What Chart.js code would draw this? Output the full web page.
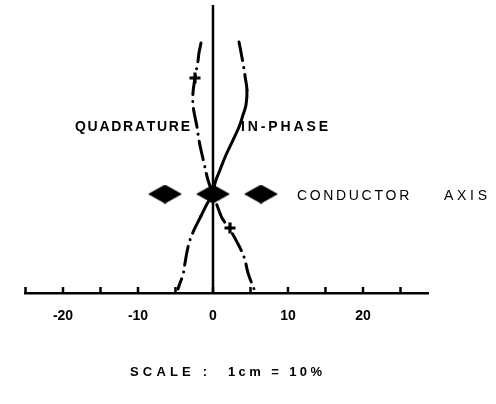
<!DOCTYPE html>
<html>
<head>
<meta charset="utf-8">
<script src="https://cdn.jsdelivr.net/npm/chart.js@4.4.1/dist/chart.umd.min.js"></script>
<style>
  html, body { margin: 0; padding: 0; background: #fff; }
  #wrap { width: 496px; height: 404px; }
</style>
</head>
<body>
<div id="wrap"><canvas id="c" width="496" height="404"></canvas></div>
<script>
// ---- data (x in %, y in the same vertical units) ----
const tickValues = [-25, -20, -15, -10, -5, 0, 5, 10, 15, 20, 25];
const labelledTicks = [-20, -10, 0, 10, 20];

const axisLineX = [0, 0];
const axisLineY = [0, 38.4];

const inPhaseX = [3.47, 4.0, 4.27, 4.53, 4.4, 4.0, 3.47, 2.67, 1.73, 0.93, 0.27, 0, -0.8, -1.6, -2.4, -3.07, -3.47, -3.73, -4.0, -4.4, -4.67];
const inPhaseY = [33.47, 30.67, 28.93, 27.07, 25.07, 23.73, 22.13, 20.4, 18.4, 16.4, 14.67, 13.2, 11.87, 10.27, 8.67, 7.07, 5.47, 4.0, 2.4, 1.33, 0.53];
const inPhaseSolidRange = [10.2, 27.1];

const quadX = [-1.6, -1.87, -2.0, -2.4, -2.67, -2.67, -2.4, -2.13, -1.87, -1.6, -1.2, -0.67, 0, 0.67, 1.2, 2.13, 3.2, 3.87, 4.27, 4.67, 5.47];
const quadY = [33.33, 31.99, 30.93, 28.67, 26.67, 25.07, 23.47, 22.13, 20.4, 19.07, 17.33, 15.07, 13.2, 11.33, 10.0, 8.67, 6.8, 5.47, 4.4, 2.67, 0.53];

const plusX = [-2.4, 2.27];
const plusY = [28.67, 8.67];

const conductorX = [-6.4, 0, 6.4];
const conductorY = [13.2, 13.2, 13.2];

// ---- helpers ----
const pts = (xs, ys) => xs.map((x, i) => ({ x, y: ys[i] }));
const dashDot = [19, 7, 0.1, 7];

const diamond = document.createElement('canvas');
diamond.width = 34; diamond.height = 19;
(() => {
  const g = diamond.getContext('2d');
  g.fillStyle = '#000';
  g.beginPath();
  g.moveTo(0, 9.5); g.lineTo(17, 0); g.lineTo(34, 9.5); g.lineTo(17, 19);
  g.closePath(); g.fill();
})();

const texts = [
  { t: 'QUADRATURE', x: 75, y: 127, w: 114, font: 'bold 14px "Liberation Sans"' },
  { t: 'IN-PHASE', x: 241, y: 127, w: 87, font: 'bold 14px "Liberation Sans"' },
  { t: 'CONDUCTOR', x: 297, y: 196, w: 112, font: '14px "Liberation Sans"' },
  { t: 'AXIS', x: 444, y: 196, w: 43, font: '14px "Liberation Sans"' },
  { t: 'SCALE :', x: 130, y: 372, w: 77, font: 'bold 13px "Liberation Sans"' },
  { t: '1cm = 10%', x: 228, y: 372, w: 94, font: 'bold 13px "Liberation Sans"' }
];

function drawFitted(ctx, o) {
  ctx.save();
  ctx.font = o.font;
  ctx.fillStyle = '#000';
  ctx.textBaseline = 'middle';
  ctx.textAlign = 'left';
  const n = o.t.length;
  const w = ctx.measureText(o.t).width;
  const sp = n > 1 ? Math.max(0, (o.w - w) / (n - 1)) : 0;
  let x = o.x;
  for (const ch of o.t) {
    ctx.fillText(ch, x, o.y);
    x += ctx.measureText(ch).width + sp;
  }
  ctx.restore();
}

const decor = {
  id: 'decor',
  afterDatasetsDraw(chart) {
    const ctx = chart.ctx;
    const xs = chart.scales.x;
    const yb = chart.chartArea.bottom;
    ctx.save();
    ctx.strokeStyle = '#000';
    ctx.lineWidth = 2.5;
    tickValues.forEach(v => {
      const px = xs.getPixelForValue(v);
      ctx.beginPath();
      ctx.moveTo(px, yb);
      ctx.lineTo(px, yb - 6);
      ctx.stroke();
    });
    ctx.restore();
    texts.forEach(o => drawFitted(ctx, o));
  }
};

new Chart(document.getElementById('c'), {
  type: 'scatter',
  data: {
    datasets: [
      { data: pts(axisLineX, axisLineY), showLine: true, borderColor: '#000', borderWidth: 2.5, pointRadius: 0 },
      {
        data: pts(inPhaseX, inPhaseY), showLine: true, borderColor: '#000', borderWidth: 3,
        borderCapStyle: 'round', tension: 0.35, pointRadius: 0,
        segment: {
          borderDash: c => {
            const a = c.p0.parsed.y, b = c.p1.parsed.y;
            const solid = a >= inPhaseSolidRange[0] && a <= inPhaseSolidRange[1] &&
                          b >= inPhaseSolidRange[0] && b <= inPhaseSolidRange[1];
            return solid ? [] : dashDot;
          }
        }
      },
      {
        data: pts(quadX, quadY), showLine: true, borderColor: '#000', borderWidth: 3,
        borderCapStyle: 'round', borderDash: dashDot, tension: 0.35, pointRadius: 0
      },
      {
        data: pts(plusX, plusY), showLine: false, pointStyle: 'cross', pointRadius: 5.5,
        borderColor: '#000', borderWidth: 3.2
      },
      {
        data: pts(conductorX, conductorY), showLine: false, pointStyle: diamond, pointRadius: 10
      }
    ]
  },
  options: {
    responsive: false,
    animation: false,
    devicePixelRatio: 1,
    layout: { autoPadding: false, padding: { left: 25.5, right: 68, top: 0, bottom: 0 } },
    plugins: { legend: { display: false }, tooltip: { enabled: false } },
    elements: { point: { hoverRadius: 0 } },
    scales: {
      x: {
        type: 'linear', min: -25, max: 28.67,
        afterBuildTicks: s => { s.ticks = tickValues.map(v => ({ value: v })); },
        afterFit: s => { s.height = 111; },
        grid: { drawOnChartArea: false, drawTicks: false },
        border: { display: true, color: '#000', width: 2.5 },
        ticks: {
          padding: 15, color: '#000', maxRotation: 0, autoSkip: false,
          font: { family: 'Liberation Sans', size: 14, weight: 'bold' },
          callback: v => labelledTicks.includes(v) ? String(v) : ''
        }
      },
      y: { type: 'linear', min: 0, max: 39.07, display: false }
    }
  },
  plugins: [decor]
});
</script>
</body>
</html>
